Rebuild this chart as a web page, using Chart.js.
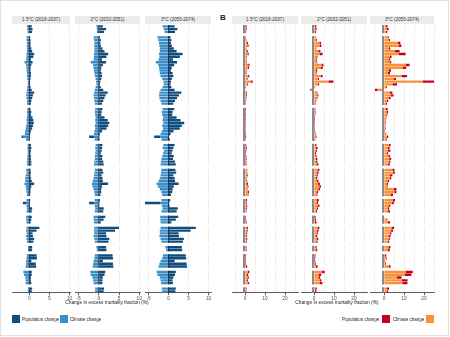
<!DOCTYPE html>
<html>
<head>
<meta charset="utf-8">
<script src="https://cdn.jsdelivr.net/npm/chart.js@4.4.1/dist/chart.umd.min.js"></script>
<style>
  body { margin: 0; width: 450px; height: 337px; position: relative; background: #fff; font-family: "Liberation Sans", Arial, sans-serif; overflow: hidden; }
  #frame { position: absolute; left: 0; top: 0; width: 447px; height: 334px; border: 1px solid #e2e2e2; }
  canvas { position: absolute; top: 25px; }
  .strip { position: absolute; top: 16px; height: 8px; background: #ebebeb; color: #333; font-size: 4.6px; line-height: 8px; text-align: center; white-space: nowrap; }
  .axt { position: absolute; top: 300px; font-size: 4.8px; color: #222; white-space: nowrap; transform: translateX(-50%); }
  .key { position: absolute; top: 315px; width: 8px; height: 8px; }
  .lab { position: absolute; top: 316.5px; font-size: 4.5px; color: #222; white-space: nowrap; }
  #tagB { position: absolute; left: 220px; top: 13px; font-size: 8px; font-weight: bold; color: #222; }
</style>
</head>
<body>
<div id="frame"></div>
<div id="tagB">B</div>
<div id="figure"></div>
<script>
// rows per region block, top to bottom
const groupSizes = [3, 25, 12, 8, 10, 5, 3, 6, 2, 5, 5, 2];
const stripLabels = ['1.5°C (2018-2037)', '2°C (2032-2051)', '3°C (2055-2074)'];
const ticksA = [-5, 0, 5, 10];
const ticksB = [0, 10, 20];
const minorB = [-5, 5, 15, 25];

// A - climate change / population change (%), 1.5°C
const climA15 = [-0.6,-0.5,-0.4,
  -0.7,-0.7,-0.6,-0.6,-0.6,-0.6,-0.7,-0.7,-0.8,-1.2,-0.8,-0.7,-0.7,-0.6,-0.6,-0.5,-0.4,-0.4,-0.5,-0.6,-0.7,-0.8,-0.7,-0.6,-0.6,
  -0.5,-0.6,-0.5,-0.6,-0.7,-0.6,-0.8,-0.9,-1.0,-1.1,-1.4,-0.8,
  -0.4,-0.5,-0.4,-0.4,-0.5,-0.5,-0.6,-0.6,
  -0.8,-0.7,-0.9,-1.0,-1.0,-1.2,-0.9,-0.8,-0.7,-0.6,
  -0.7,-0.8,-0.7,-0.6,-0.7,
  -0.8,-0.8,-0.7,
  -0.7,-0.8,-0.7,-0.8,-0.7,-0.6,
  -0.3,-0.3,
  -0.6,-0.7,-0.8,-0.8,-0.9,
  -1.5,-1.3,-1.0,-0.9,-0.9,
  -0.3,-0.4];
const popA15 = [0.6,0.8,0.7,
  0.2,0.3,0.3,0.3,0.5,0.7,1.2,1.0,0.4,0.8,0.5,0.3,0.3,0.4,0.4,0.3,0.2,0.2,0.3,0.6,1.2,0.9,0.7,0.5,0.4,
  0.3,0.5,0.4,0.8,1.0,1.1,0.9,0.7,0.4,0.2,-0.5,0.1,
  0.4,0.5,0.4,0.3,0.4,0.4,0.5,0.5,
  0.3,0.4,0.3,0.4,0.6,1.2,0.5,0.3,0.3,0.2,
  0.2,-0.8,0.1,0.7,0.6,
  0.6,0.5,0.3,
  2.5,1.8,0.8,0.9,1.2,1.0,
  0.7,0.7,
  1.8,1.9,0.5,1.6,1.7,
  0.6,0.6,0.4,0.4,0.5,
  0.7,0.6];

// A, 2°C
const climA2 = [-0.6,-0.5,-0.5,
  -1.3,-1.2,-1.1,-1.1,-1.1,-1.1,-1.2,-1.2,-1.3,-2.0,-1.4,-1.3,-1.2,-1.1,-1.0,-0.8,-0.7,-0.6,-0.8,-1.0,-1.2,-1.3,-1.2,-1.1,-1.0,
  -0.9,-1.0,-0.9,-0.8,-0.9,-0.8,-1.0,-0.9,-1.1,-1.2,-1.2,-1.0,
  -0.8,-0.9,-0.8,-0.9,-1.0,-1.0,-1.1,-1.2,
  -1.0,-1.1,-1.2,-1.3,-1.5,-1.7,-1.6,-1.3,-1.1,-1.0,
  -1.0,-1.1,-1.0,-0.9,-1.0,
  -1.3,-1.3,-1.2,
  -1.1,-1.2,-1.2,-1.3,-1.1,-1.0,
  -0.6,-0.5,
  -1.0,-1.1,-1.3,-1.4,-1.5,
  -2.1,-2.0,-1.6,-1.4,-1.3,
  -0.9,-0.9];
const popA2 = [1.0,1.8,1.3,
  0.3,0.5,0.4,0.5,0.9,1.4,2.3,1.9,0.8,1.8,1.0,0.6,0.5,0.7,0.8,0.6,0.4,0.3,0.5,1.1,2.2,1.7,1.4,1.1,0.8,
  0.9,0.7,0.6,1.4,2.2,2.6,2.3,1.9,0.8,0.3,-1.2,0.2,
  0.9,0.8,0.7,0.5,0.9,0.8,1.1,1.2,
  0.9,1.1,0.7,0.9,1.0,2.3,0.8,0.6,0.6,0.4,
  0.3,-1.3,0.1,1.2,1.1,
  1.6,1.2,0.5,
  5.0,4.0,1.8,1.9,2.6,2.4,
  1.8,1.9,
  3.4,3.5,1.0,3.5,3.6,
  1.6,1.4,1.0,0.9,0.9,
  1.3,1.2];

// A, 3°C
const climA3 = [-1.5,-1.2,-1.0,
  -2.8,-2.6,-2.4,-2.3,-2.2,-2.2,-2.4,-2.3,-2.5,-3.2,-2.6,-2.4,-2.3,-2.2,-2.0,-1.6,-1.3,-1.2,-1.5,-2.0,-2.3,-2.4,-2.3,-2.0,-1.8,
  -1.5,-1.7,-1.6,-1.4,-1.5,-1.3,-1.6,-1.4,-1.7,-2.0,-2.0,-1.8,
  -1.3,-1.5,-1.2,-1.4,-1.6,-1.8,-1.9,-2.0,
  -1.8,-1.9,-2.0,-2.2,-2.5,-3.0,-2.7,-2.2,-1.8,-1.6,
  -1.8,-2.0,-1.7,-1.5,-1.8,
  -2.1,-2.1,-2.0,
  -2.0,-2.2,-2.2,-2.3,-2.0,-1.8,
  -0.8,-0.6,
  -1.4,-1.6,-2.0,-2.3,-2.5,
  -3.0,-2.8,-2.2,-2.0,-1.9,
  -1.7,-1.6];
const popA3 = [1.5,2.2,1.6,
  0.5,0.7,0.6,0.8,1.3,2.0,3.5,2.8,1.1,2.1,1.4,0.8,0.6,1.0,1.2,0.8,0.6,0.5,0.7,1.5,3.2,2.6,2.1,1.6,1.2,
  1.4,1.0,0.9,2.0,3.0,3.9,3.3,2.8,1.2,0.5,-1.6,0.3,
  1.5,1.2,1.0,0.8,1.3,1.1,1.6,1.8,
  1.7,1.9,1.2,1.5,1.6,2.5,1.3,1.0,0.9,0.6,
  0.4,-4.2,0.2,2.3,2.0,
  2.4,1.8,0.7,
  6.8,5.5,2.5,2.6,3.8,3.6,
  3.3,3.4,
  4.3,4.4,1.5,4.5,4.6,
  1.8,1.6,1.2,1.0,1.1,
  1.8,1.7];

// B - climate change / population change (%), 1.5°C
const climB15 = [0.2,0.3,0.2,
  0.3,0.5,1.0,1.2,0.4,0.8,1.2,0.5,0.4,0.5,1.6,1.4,0.4,0.3,1.4,0.8,2.8,0.9,0.3,-0.5,0.5,0.6,0.4,0.3,0.2,
  0.1,0.1,0.1,0.1,0.1,0.1,0.1,0.1,0.1,0.2,0.2,0.1,
  0.2,0.3,0.2,0.2,0.3,0.3,0.3,0.3,
  0.8,0.7,0.9,0.6,0.7,1.0,1.2,0.8,1.5,1.3,
  0.5,0.4,0.6,0.5,0.4,
  0.1,0.2,0.3,
  0.9,0.7,0.6,0.5,0.6,0.5,
  0.3,0.4,
  0.2,0.1,0.1,0.2,0.5,
  1.4,1.0,1.2,1.0,1.3,
  0.4,0.3];
const popB15 = [0.6,0.5,0.4,
  0.2,0.2,0.5,0.6,0.3,0.6,0.7,0.3,0.3,0.3,0.7,0.6,0.4,0.4,0.7,0.5,1.0,0.5,0.2,-0.3,0.4,0.4,0.3,0.3,0.2,
  0.4,0.3,0.3,0.2,0.3,0.2,0.2,0.2,0.2,0.3,0.4,0.2,
  0.4,0.6,0.5,0.3,0.4,0.5,0.4,0.5,
  0.3,0.4,0.5,0.3,0.4,0.5,0.5,0.4,0.5,0.4,
  0.5,0.4,0.5,0.4,0.3,
  0.3,0.4,0.5,
  0.6,0.6,0.5,0.4,0.5,0.4,
  0.4,0.4,
  0.4,0.3,0.3,0.3,0.6,
  0.8,0.6,0.7,0.5,0.8,
  0.4,0.4];

// B, 2°C
const climB2 = [0.4,0.6,0.5,
  0.8,1.0,2.7,2.8,0.7,2.2,3.0,1.2,1.0,1.2,3.8,3.4,1.0,0.8,3.3,1.8,7.2,1.8,0.4,-1.2,1.2,1.6,1.2,0.7,0.5,
  0.3,0.4,0.3,0.2,0.2,0.2,0.3,0.2,0.3,0.4,0.8,0.3,
  0.6,1.0,0.8,0.5,0.7,0.9,1.0,1.3,
  1.8,1.5,1.2,1.0,1.4,2.0,2.6,2.2,1.5,1.2,
  1.5,1.2,2.0,1.4,1.0,
  0.2,0.3,0.5,
  1.8,1.5,1.2,1.0,1.3,1.1,
  0.7,0.9,
  0.3,0.2,0.2,0.4,0.9,
  3.8,2.5,2.2,2.7,3.0,
  0.6,0.5];
const popB2 = [0.8,0.7,0.5,
  0.3,0.4,0.8,0.9,0.4,1.0,1.3,0.5,0.4,0.4,0.9,1.0,0.6,0.5,1.0,0.7,2.5,0.8,0.2,-0.6,0.5,0.6,0.5,0.4,0.3,
  0.4,0.4,0.3,0.3,0.3,0.2,0.2,0.2,0.3,0.4,0.5,0.3,
  0.6,0.8,0.7,0.5,0.6,0.8,0.7,0.9,
  0.9,0.8,0.7,0.6,0.8,0.9,0.9,0.8,0.6,0.5,
  0.9,0.8,0.7,0.6,0.5,
  0.6,0.7,0.8,
  0.9,0.8,0.7,0.6,0.8,0.7,
  0.6,0.7,
  0.5,0.4,0.4,0.5,0.9,
  1.5,1.1,0.9,1.0,1.2,
  0.8,0.7];

// B, 3°C
const climB3 = [0.8,1.5,1.0,
  2.0,2.5,7.0,7.5,2.5,5.5,7.5,3.0,2.5,3.0,10.8,9.5,2.2,2.0,9.0,5.0,19.5,4.2,1.0,-3.2,3.0,3.5,2.5,1.3,1.0,
  1.0,1.5,1.2,0.8,0.6,0.5,0.4,0.5,0.3,0.7,1.5,0.8,
  2.5,1.8,2.0,1.5,2.2,2.6,2.4,2.0,
  4.2,4.5,3.0,2.8,2.0,1.5,1.2,5.0,5.2,3.5,
  4.5,4.0,2.5,1.8,2.0,
  -0.3,1.2,2.0,
  3.8,3.5,2.8,2.5,2.2,2.0,
  2.2,2.0,
  0.5,0.8,0.3,0.5,2.3,
  10.8,10.5,6.5,9.0,9.2,
  1.5,1.3];
const popB3 = [1.0,0.8,0.6,
  0.4,0.5,1.2,1.2,0.6,2.3,3.3,0.8,0.6,0.6,2.0,1.6,1.3,1.0,2.5,1.0,6.0,2.3,0.4,-1.3,1.2,1.3,0.8,0.8,0.5,
  0.8,0.6,0.5,0.4,0.3,0.3,0.2,0.3,0.2,0.4,0.6,0.5,
  0.8,1.0,1.2,0.6,0.9,1.0,0.8,0.9,
  1.0,0.9,1.2,0.8,0.6,0.5,0.5,1.2,1.0,1.0,
  1.0,0.9,0.6,0.8,1.0,
  -0.4,0.5,1.0,
  1.2,1.0,0.9,0.8,0.7,0.6,
  1.0,0.9,
  0.6,0.5,0.3,0.4,1.0,
  3.6,3.2,2.3,2.8,2.5,
  1.0,0.8];

const blueClim = '#3b8fc6', bluePop = '#0e4d7e';
const orangeClim = '#f9913a', redPop = '#c4001f';

const panels = [
  { left: 12,  width: 58, min: -4.3, max: 10.1, clim: climA15, pop: popA15, cc: blueClim, cp: bluePop, zero: '#1b2244', zw: 1, ticks: ticksA, minor: [], strip: 0 },
  { left: 75,  width: 65, min: -5.9, max: 10.2, clim: climA2,  pop: popA2,  cc: blueClim, cp: bluePop, zero: '#1b2244', zw: 1, ticks: ticksA, minor: [], strip: 1 },
  { left: 145, width: 66, min: -5.9, max: 10.6, clim: climA3,  pop: popA3,  cc: blueClim, cp: bluePop, zero: '#1b2244', zw: 1, ticks: ticksA, minor: [], strip: 2 },
  { left: 232, width: 66, min: -6.5, max: 26.5, clim: climB15, pop: popB15, cc: orangeClim, cp: redPop, zero: '#8a8a8a', zw: 2, ticks: ticksB, minor: minorB, strip: 0 },
  { left: 301, width: 66, min: -6.5, max: 26.5, clim: climB2,  pop: popB2,  cc: orangeClim, cp: redPop, zero: '#8a8a8a', zw: 2, ticks: ticksB, minor: minorB, strip: 1 },
  { left: 370, width: 64, min: -7,   max: 25,   clim: climB3,  pop: popB3,  cc: orangeClim, cp: redPop, zero: '#8a8a8a', zw: 2, ticks: ticksB, minor: minorB, strip: 2 },
];

// insert an empty row between blocks so they look like facet rows
const gapRows = [];
const blocks = [];
let r = 0;
groupSizes.forEach((n, g) => {
  blocks.push([r, r + n - 1]);
  r += n;
  if (g < groupSizes.length - 1) { gapRows.push(r); r++; }
});
const rowLabels = Array.from({ length: r }, (_, i) => String(i));

function withGaps(values) {
  const out = [];
  let k = 0;
  groupSizes.forEach((n, g) => {
    for (let j = 0; j < n; j++) out.push(values[k++]);
    if (g < groupSizes.length - 1) out.push(null);
  });
  return out;
}

function facetPlugin(p) {
  return {
    id: 'facets',
    beforeDatasetsDraw(chart) {
      const { ctx, chartArea: a, scales: { y } } = chart;
      const h = y.getPixelForValue(1) - y.getPixelForValue(0);
      ctx.save();
      ctx.fillStyle = '#fff';
      gapRows.forEach(i => {
        const c = y.getPixelForValue(i);
        ctx.fillRect(a.left - 1, c - h / 2, a.right - a.left + 2, h);
      });
      ctx.restore();
    },
    afterDatasetsDraw(chart) {
      const { ctx, scales: { x, y } } = chart;
      const h = y.getPixelForValue(1) - y.getPixelForValue(0);
      const x0 = x.getPixelForValue(0) - (p.zw > 1 ? 1 : 0);
      ctx.save();
      ctx.strokeStyle = p.zero;
      ctx.lineWidth = p.zw;
      blocks.forEach(([s, e]) => {
        ctx.beginPath();
        ctx.moveTo(x0, y.getPixelForValue(s) - h / 2);
        ctx.lineTo(x0, y.getPixelForValue(e) + h / 2);
        ctx.stroke();
      });
      ctx.restore();
    }
  };
}

const fig = document.getElementById('figure');
panels.forEach(p => {
  const strip = document.createElement('div');
  strip.className = 'strip';
  strip.style.left = p.left + 'px';
  strip.style.width = p.width + 'px';
  strip.textContent = stripLabels[p.strip];
  fig.appendChild(strip);

  const cv = document.createElement('canvas');
  cv.width = p.width + 16;
  cv.height = 278;
  cv.style.left = (p.left - 8) + 'px';
  fig.appendChild(cv);

  const allTicks = p.ticks.concat(p.minor).filter(v => v >= p.min && v <= p.max).sort((a, b) => a - b);

  new Chart(cv, {
    type: 'bar',
    data: {
      labels: rowLabels,
      datasets: [
        { label: 'Climate change', data: withGaps(p.clim), backgroundColor: p.cc },
        { label: 'Population change', data: withGaps(p.pop), backgroundColor: p.cp },
      ]
    },
    options: {
      indexAxis: 'y',
      responsive: false,
      animation: false,
      layout: { padding: { left: 8, right: 8, top: 0, bottom: 0 } },
      datasets: { bar: { barPercentage: 0.86, categoryPercentage: 1 } },
      plugins: { legend: { display: false }, tooltip: { enabled: false } },
      scales: {
        y: { display: false, stacked: true },
        x: {
          stacked: true,
          min: p.min,
          max: p.max,
          afterBuildTicks: s => { s.ticks = allTicks.map(v => ({ value: v })); },
          ticks: {
            autoSkip: false, maxRotation: 0, padding: 1, color: '#4d4d4d',
            font: { size: 4.8, family: '"Liberation Sans", Arial, sans-serif' },
            callback: v => p.ticks.includes(v) ? String(v) : ''
          },
          grid: {
            color: '#ebebeb', lineWidth: 0.8, tickLength: 2.5,
            tickColor: c => (c.tick && p.ticks.includes(c.tick.value)) ? '#333' : 'rgba(0,0,0,0)'
          },
          border: { display: true, color: '#333', width: 0.8 }
        }
      }
    },
    plugins: [facetPlugin(p)]
  });
});

// axis titles and legends
function addText(cls, left, text, extra) {
  const d = document.createElement('div');
  d.className = cls;
  d.style.left = left + 'px';
  d.textContent = text;
  if (extra) Object.assign(d.style, extra);
  fig.appendChild(d);
}
function addKey(left, color) {
  const d = document.createElement('div');
  d.className = 'key';
  d.style.left = left + 'px';
  d.style.background = color;
  fig.appendChild(d);
}
addText('axt', 107, 'Change in excess mortality fraction (%)');
addText('axt', 337, 'Change in excess mortality fraction (%)');
addKey(12, bluePop);
addText('lab', 22, 'Population change');
addKey(60, blueClim);
addText('lab', 70, 'Climate change');
addText('lab', 342, 'Population change');
addKey(382, redPop);
addText('lab', 393, 'Climate change');
addKey(426, orangeClim);
</script>
</body>
</html>
